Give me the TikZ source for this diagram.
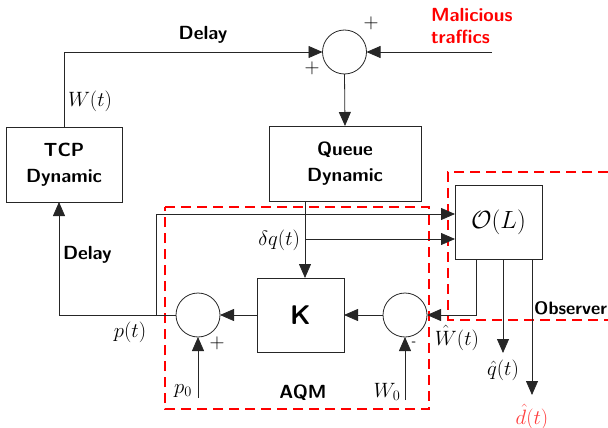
\documentclass[tikz,border=0pt]{standalone}
\usetikzlibrary{arrows.meta}
\definecolor{hatred}{RGB}{255,60,60}
\begin{document}
\begin{tikzpicture}[x=1pt,y=-1pt,
  every node/.style={inner sep=0pt, outer sep=0pt},
  line/.style={draw=black!85, line width=0.8pt},
  arr/.style={line, -{Triangle[length=14pt,width=12pt]}},
  box/.style={draw=black!85, line width=0.8pt, rectangle, align=center},
  sumc/.style={draw=black!85, line width=0.8pt, circle, minimum size=44pt},
  lbl/.style={font=\fontsize{19}{25}\selectfont\sffamily\bfseries, align=center},
  mth/.style={font=\fontsize{19.5}{22}\selectfont},
  reddash/.style={draw=red, line width=1.1pt, dash pattern=on 10pt off 6pt}
]
\useasboundingbox (0,0) rectangle (608,428);
% dashed regions
\draw[reddash] (608,172) -- (448,172) -- (448,320) -- (608,320);
\draw[reddash] (165,207) -- (429,207) -- (429,409) -- (165,409) -- cycle;
% blocks
\node[box, lbl, minimum width=116pt, minimum height=75pt] (tcp) at (64,164.5) {TCP\\[1pt]Dynamic};
\node[box, lbl, minimum width=152pt, minimum height=75pt] (queue) at (345,163.5) {Queue\\[1pt]Dynamic};
\node[box, minimum width=87pt, minimum height=74pt, font=\fontsize{27}{30}\selectfont] (obs) at (498.5,222) {$\mathcal{O}(L)$};
\node[box, minimum width=87pt, minimum height=74pt, font=\fontsize{27}{30}\selectfont\sffamily\bfseries] (K) at (300.5,315) {K};
\node[sumc] (sumtop) at (344.5,52) {};
\node[sumc] (sumL) at (198,315) {};
\node[sumc] (sumR) at (405,315) {};
% coordinates
\coordinate (mal) at (492,52);
\coordinate (dq) at (305,239);
\coordinate (pl) at (59,315);
\coordinate (pj) at (156,315);
\coordinate (ft) at (156,214);
\coordinate (p0c) at (198,398);
\coordinate (w0c) at (405,400);
\coordinate (wh) at (476,315);
\coordinate (qh) at (503,353);
\coordinate (dh) at (532,395);
% connectors
\draw[arr] (tcp.north) |- (sumtop.west);
\draw[arr] (mal) -- (sumtop.east);
\draw[arr] (sumtop.south) -- (queue.north);
\draw[arr] (queue.south -| dq) -- (dq |- K.north);
\draw[arr] (dq) -- (dq -| obs.west);
\draw[arr] (sumL.west) -- (pl) -- (pl |- tcp.south);
\draw[arr] (pj) -- (ft) -- (ft -| obs.west);
\draw[arr] (K.west) -- (sumL.east);
\draw[arr] (sumR.west) -- (K.east);
\draw[arr] (p0c) -- (sumL.south);
\draw[arr] (w0c) -- (sumR.south);
\draw[arr] (wh |- obs.south) -- (wh) -- (sumR.east);
\draw[arr] (qh |- obs.south) -- (qh);
\draw[arr] (dh |- obs.south) -- (dh);
% labels
\node[lbl] (ldelay1) at (203,35) {Delay};
\node[mth, anchor=west] (lW) at (68,101) {$W(t)$};
\node[lbl, text=red, align=left, anchor=west, font=\fontsize{19}{22}\selectfont\sffamily\bfseries] (lmal) at (431,26) {Malicious\\traffics};
\node[mth] (lp1) at (371,23) {$+$};
\node[mth] (lp2) at (312,68) {$+$};
\node[lbl, anchor=west] (ldelay2) at (63,255) {Delay};
\node[mth] (lpt) at (130,332) {$p(t)$};
\node[mth] (lp3) at (217,343) {$+$};
\node[mth] (lp0) at (183,391) {$p_0$};
\node[mth, anchor=east] (ldq) at (300,240) {$\delta q(t)$};
\node[lbl] (laqm) at (303,393) {AQM};
\node[lbl, font=\fontsize{13}{14}\selectfont\sffamily\bfseries] (lminus) at (414,344) {-};
\node[mth] (lw0) at (387,392) {$W_0$};
\node[mth] (lwh) at (457,338) {$\hat{W}(t)$};
\node[mth] (lqh) at (503,370) {$\hat{q}(t)$};
\node[mth, text=hatred] (ldh) at (532,417) {$\hat{d}(t)$};
\node[lbl, anchor=east, font=\fontsize{18}{22}\selectfont\sffamily\bfseries] (lobs) at (607,308) {Observer};
\end{tikzpicture}
\end{document}
